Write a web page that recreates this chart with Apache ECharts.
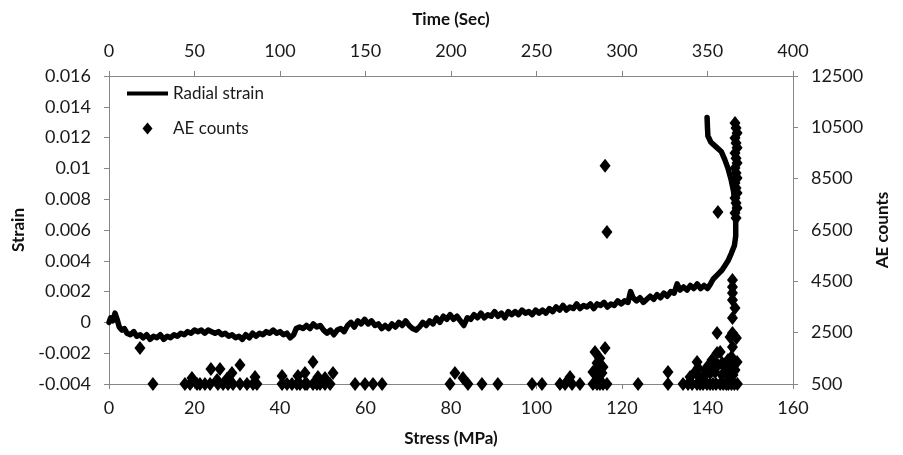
<!DOCTYPE html>
<html>
<head>
<meta charset="utf-8">
<script src="https://cdn.jsdelivr.net/npm/echarts@6/dist/echarts.min.js"></script>
<style>html,body{margin:0;padding:0;background:#fff}#c{width:903px;height:455px}</style>
</head>
<body>
<div id="c"></div>
<script>
// ---- Data ----
const stressTicks = [0, 20, 40, 60, 80, 100, 120, 140, 160];
const timeTicks = [0, 50, 100, 150, 200, 250, 300, 350, 400];
const strainTicks = [-0.004, -0.002, 0, 0.002, 0.004, 0.006, 0.008, 0.01, 0.012, 0.014, 0.016];
const aeTicks = [500, 2500, 4500, 6500, 8500, 10500, 12500];

// Radial strain vs stress (MPa)
const radialStress = [
 0,0.4,0.9,1.4,1.9,2.4,3,3.6,4.2,5,5.8,6.5,7.3,8,8.8,9.6,10.4,11.2,12,12.8,13.6,14.4,15.2,16,16.8,17.6,18.4,19.2,20,20.8,
 21.6,22.4,23.2,24,24.8,25.6,26.4,27.2,28,28.8,29.6,30.4,31.2,32,32.8,33.6,34.4,35.2,36,36.8,37.6,38.4,39.2,40,40.8,41.6,42.4,43.2,43.8,44.6,
 45.4,46.2,47,47.8,48.6,49.4,50.2,51,51.8,52.6,53.4,54.2,55,55.8,56.6,57.4,58.2,59,59.8,60.6,61.4,62.2,63,63.8,64.6,65.4,66.2,67,67.8,68.6,
 69.4,70.2,71,71.8,72.6,73.4,74.2,75,75.8,76.6,77.4,78.2,79,79.8,80.6,81.4,82.2,83,83.8,84.6,85.4,86.2,87,87.8,88.6,89.4,90.2,91,91.8,92.6,
 93.4,94.2,95,95.8,96.6,97.4,98.2,99,99.8,100.6,101.4,102.2,103,103.8,104.6,105.4,106.2,107,107.8,108.6,109.4,110.2,111,111.8,112.6,113.4,114.2,115,115.8,116.6,
 117.4,118.2,119,119.8,120.6,121.4,122,122.6,123.4,124.2,125,125.8,126.6,127.4,128.2,129,129.8,130.6,131.4,132.2,132.9,133.6,134.4,135.2,136,136.8,137.6,138.4,139.2,140,
 140.7,141.3,142,142.7,143.4,144.1,144.8,145.6,146.3,146.6,146.6,146.5,146.1,145.5,144.8,144,143.2,142,140.8,140.1,140,139.9
];
const radialStrain = [
 0,0.0003,0.0001,0.0006,0.0002,-0.0003,-0.0005,-0.0004,-0.0007,-0.0008,-0.0006,-0.0009,-0.0008,-0.001,-0.0008,-0.0011,-0.0009,-0.001,-0.0008,-0.0011,-0.0009,-0.001,-0.0008,-0.0009,-0.0007,-0.0008,-0.0006,-0.0007,-0.0005,-0.0006,
 -0.0005,-0.0007,-0.0005,-0.0006,-0.0007,-0.0006,-0.0008,-0.0007,-0.0009,-0.0008,-0.001,-0.0009,-0.0011,-0.0008,-0.001,-0.0007,-0.0009,-0.0007,-0.0008,-0.0006,-0.0007,-0.0005,-0.0007,-0.0006,-0.0008,-0.0007,-0.001,-0.0008,-0.0004,-0.0003,
 -0.0004,-0.0002,-0.0004,-0.0001,-0.0003,-0.0002,-0.0005,-0.0007,-0.0005,-0.0008,-0.0005,-0.0004,-0.0006,-0.0002,0,-0.0003,0.0001,-0.0001,0.0002,-0.0001,0.0001,-0.0002,-0.0001,-0.0004,-0.0002,-0.0004,-0.0001,-0.0003,0,-0.0002,
 0.0001,-0.0002,-0.0004,-0.0005,-0.0003,0,-0.0002,0.0001,-0.0001,0.0003,0,0.0004,0.0002,0.0005,0.0002,0.0004,0.0001,-0.0002,0.0003,0.0002,0.0005,0.0003,0.0006,0.0003,0.0005,0.0004,0.0007,0.0004,0.0006,0.0003,
 0.0007,0.0005,0.0007,0.0005,0.0008,0.0006,0.0007,0.0005,0.0008,0.0006,0.0008,0.0006,0.0009,0.0007,0.001,0.0008,0.0011,0.0008,0.001,0.0009,0.0012,0.0009,0.0011,0.001,0.0012,0.0009,0.0012,0.0011,0.0013,0.001,
 0.0012,0.0011,0.0014,0.0012,0.0014,0.0013,0.002,0.0016,0.0014,0.0016,0.0013,0.0015,0.0017,0.0015,0.0018,0.0016,0.0019,0.0017,0.002,0.0019,0.0025,0.0021,0.0023,0.0021,0.0024,0.0022,0.0025,0.0022,0.0024,0.0022,
 0.0025,0.0028,0.003,0.0032,0.0034,0.0037,0.004,0.0045,0.005,0.0056,0.0065,0.0075,0.0085,0.0093,0.01,0.0106,0.0111,0.0114,0.0117,0.0121,0.0126,0.0133
];

// AE counts vs time (Sec)
const aeTime = [
 25.7,44.4,47.4,51.5,53.2,56.1,59.1,63.7,66.7,69.6,72.5,76.6,80.7,84.2,86.5,101.2,104.1,107,109.9,111.7,114.6,115.8,119.3,121.6,123.4,126.3,129.3,143.9,149.7,154.4,
 159.7,199.4,209.9,218.1,227.4,247.4,253.2,263.7,266.7,270.8,275.4,283,285.4,287.1,288.9,291.2,309.4,326.9,335.7,338.6,341,343.9,345.7,347.4,349.7,351.5,353.2,355,357.4,359.2,
 361,362.2,364,365.7,367.5,
 18.1,48.5,59.6,64.9,63.2,69,71.9,76.6,85.4,101.2,110.5,114.6,119.3,122.2,131,126.3,202.3,207,269.6,284.2,290.1,285.4,285.4,288.3,286,288.9,283,287,290.1,291.2,
 326.9,339.8,343.9,344.5,347.4,351.5,353.2,355.6,355.6,357.4,358.6,361,362.8,364,364.6,366.9,364.6,364.6,364.6,364.6,364.6,364.6,366.1,356.1,
 342.7,345.7,348.6,350.3,352.6,354.4,356.1,358.5,360.2,362,363.7,366.1,367.3,364.9,363.2,
 366.1,366.7,367.3,366.1,366.7,367.3,366.1,366.7,367.3,366.1,366.7,367.3,366.1,366.7,367.3,366.1,366.7,367.3,366.1,366.7
];
const aeCounts = [
 500,500,500,500,500,500,500,500,500,500,500,500,500,500,500,500,500,500,500,500,500,500,500,500,500,500,500,500,500,500,
 500,500,500,500,500,500,500,500,500,500,500,500,500,500,500,500,500,500,500,500,500,500,500,500,500,500,500,500,500,500,
 500,500,500,500,500,
 1900,730,1085,1085,660,700,930,1240,770,810,810,930,1360,770,930,730,930,730,770,1750,1900,1320,1120,930,730,1160,970,1500,9000,6420,
 970,770,1360,1120,770,930,1050,1710,2490,1750,1320,930,1240,1550,1940,2290,2490,3070,3770,4050,4280,4550,3460,7200,
 970,730,1045,1200,1435,970,1240,850,1120,1435,810,1045,1360,850,2330,
 10670,10470,10280,10080,9890,9700,9500,9300,9110,8920,8720,8530,8330,8140,7940,7750,7550,7360,7160,6970
];

// ---- Chart ----
const FONT = 'Lato';
const strainLine = radialStress.map((s, i) => [s, radialStrain[i]]);
const aePoints = aeTime.map((t, i) => [t, aeCounts[i]]);
const axisLineStyle = { color: '#868686', width: 1 };
const labelStyle = { color: '#1a1a1a', fontFamily: FONT, fontSize: 18 };
const nameStyle = { color: '#111', fontFamily: FONT, fontSize: 17, fontWeight: 'bold' };

const chart = echarts.init(document.getElementById('c'), null, { renderer: 'canvas' });
chart.setOption({
  animation: false,
  backgroundColor: '#fff',
  grid: { left: 109, right: 110, top: 76, bottom: 71, containLabel: false },
  legend: {
    orient: 'vertical', left: 122, top: 80, itemWidth: 41, itemHeight: 12, itemGap: 18,
    textStyle: { color: '#1a1a1a', fontFamily: FONT, fontSize: 17 },
    data: [
      { name: 'Radial strain', icon: 'path://M0,0 L41,0 L41,4 L0,4 Z', itemStyle: { color: '#000' } },
      { name: 'AE counts', icon: 'path://M5,0 L10,6 L5,12 L0,6 Z', itemStyle: { color: '#000' } }
    ]
  },
  xAxis: [
    { type: 'value', position: 'bottom', min: stressTicks[0], max: stressTicks[stressTicks.length - 1], interval: 20,
      name: 'Stress (MPa)', nameLocation: 'middle', nameGap: 46, nameTextStyle: nameStyle,
      axisLine: { show: true, onZero: false, lineStyle: axisLineStyle },
      axisTick: { show: true, length: 5, lineStyle: axisLineStyle },
      axisLabel: { ...labelStyle, margin: 15 }, splitLine: { show: false } },
    { type: 'value', position: 'top', min: timeTicks[0], max: timeTicks[timeTicks.length - 1], interval: 50,
      name: 'Time (Sec)', nameLocation: 'middle', nameGap: 48, nameTextStyle: nameStyle,
      axisLine: { show: true, onZero: false, lineStyle: axisLineStyle },
      axisTick: { show: true, length: 5, lineStyle: axisLineStyle },
      axisLabel: { ...labelStyle, margin: 16 }, splitLine: { show: false } }
  ],
  yAxis: [
    { type: 'value', position: 'left', min: strainTicks[0], max: strainTicks[strainTicks.length - 1], interval: 0.002,
      name: 'Strain', nameLocation: 'middle', nameGap: 80, nameTextStyle: nameStyle,
      axisLine: { show: true, onZero: false, lineStyle: axisLineStyle },
      axisTick: { show: true, length: 5, lineStyle: axisLineStyle },
      axisLabel: { ...labelStyle, margin: 18 }, splitLine: { show: false } },
    { type: 'value', position: 'right', min: aeTicks[0], max: aeTicks[aeTicks.length - 1],
      name: 'AE counts', nameLocation: 'middle', nameGap: 80, nameTextStyle: nameStyle,
      axisLine: { show: true, onZero: false, lineStyle: axisLineStyle },
      axisTick: { show: true, length: 5, lineStyle: axisLineStyle, customValues: aeTicks },
      axisLabel: { ...labelStyle, margin: 18, customValues: aeTicks, formatter: v => String(v) },
      splitLine: { show: false } }
  ],
  series: [
    { name: 'Radial strain', type: 'line', xAxisIndex: 0, yAxisIndex: 0, data: strainLine,
      showSymbol: false, symbol: 'none', smooth: false,
      lineStyle: { color: '#000', width: 5.5, join: 'round', cap: 'round' }, itemStyle: { color: '#000' }, z: 3 },
    { name: 'AE counts', type: 'scatter', xAxisIndex: 1, yAxisIndex: 1, data: aePoints,
      symbol: 'diamond', symbolSize: [11, 14], itemStyle: { color: '#000', opacity: 1 }, z: 4 }
  ]
});
</script>
</body>
</html>
